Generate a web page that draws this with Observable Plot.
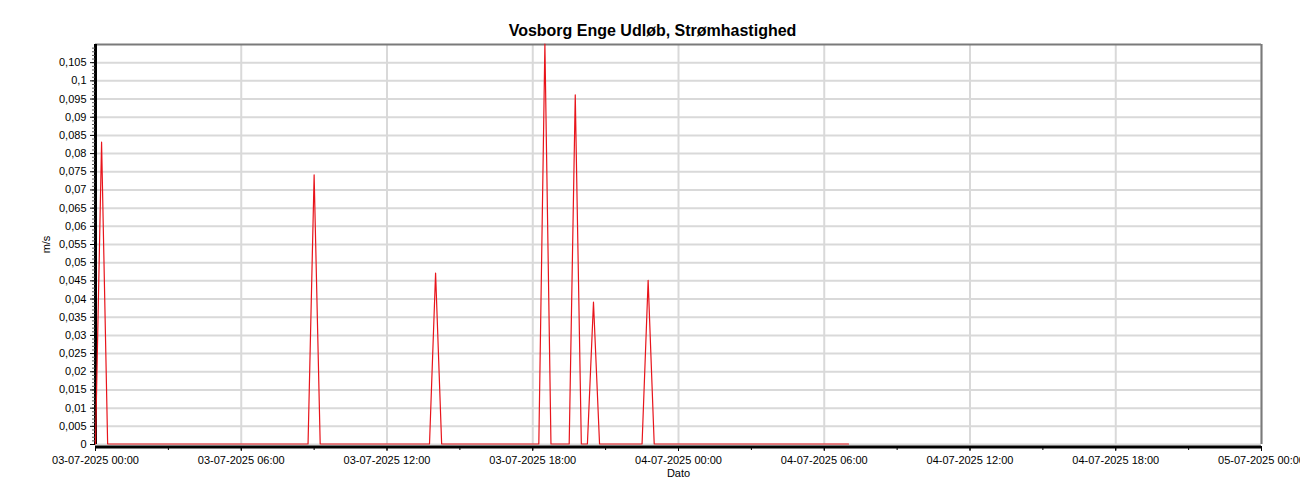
<!DOCTYPE html>
<html>
<head>
<meta charset="utf-8">
<script src="https://cdn.jsdelivr.net/npm/d3@7"></script>
<script src="https://cdn.jsdelivr.net/npm/@observablehq/plot@0.6"></script>
<style>
  html, body { margin: 0; padding: 0; background: white; }
</style>
</head>
<body>
<div id="chart"></div>
<script>
// ---- data ----
const title = "Vosborg Enge Udløb, Strømhastighed";
const yLabel = "m/s";
const xLabel = "Dato";
const seriesStart = "2025-07-03T00:00:00Z";
const stepMinutes = 15;
// values every 15 minutes, from 03-07-2025 00:00 to 04-07-2025 07:00 (one row = 2 hours)
const speed = [
  0, 0.083, 0, 0, 0, 0, 0, 0,        // 00:00
  0, 0, 0, 0, 0, 0, 0, 0,            // 02:00
  0, 0, 0, 0, 0, 0, 0, 0,            // 04:00
  0, 0, 0, 0, 0, 0, 0, 0,            // 06:00
  0, 0, 0, 0, 0.074, 0, 0, 0,        // 08:00
  0, 0, 0, 0, 0, 0, 0, 0,            // 10:00
  0, 0, 0, 0, 0, 0, 0, 0,            // 12:00
  0.047, 0, 0, 0, 0, 0, 0, 0,        // 14:00
  0, 0, 0, 0, 0, 0, 0, 0,            // 16:00
  0, 0, 0.11, 0, 0, 0, 0, 0.096,     // 18:00
  0, 0, 0.039, 0, 0, 0, 0, 0,        // 20:00
  0, 0, 0, 0.045, 0, 0, 0, 0,        // 22:00
  0, 0, 0, 0, 0, 0, 0, 0,            // 04-07 00:00
  0, 0, 0, 0, 0, 0, 0, 0,            // 02:00
  0, 0, 0, 0, 0, 0, 0, 0,            // 04:00
  0, 0, 0, 0, 0                      // 06:00 - 07:00
];
const xDomain = ["2025-07-03T00:00:00Z", "2025-07-05T00:00:00Z"];
const xTickLabels = [
  "2025-07-03T00:00:00Z", "2025-07-03T06:00:00Z", "2025-07-03T12:00:00Z",
  "2025-07-03T18:00:00Z", "2025-07-04T00:00:00Z", "2025-07-04T06:00:00Z",
  "2025-07-04T12:00:00Z", "2025-07-04T18:00:00Z", "2025-07-05T00:00:00Z"
];
const yTicks = [0, 0.005, 0.01, 0.015, 0.02, 0.025, 0.03, 0.035, 0.04, 0.045, 0.05,
  0.055, 0.06, 0.065, 0.07, 0.075, 0.08, 0.085, 0.09, 0.095, 0.1, 0.105];
const yDomain = [0, 0.11];

// ---- build ----
const t0 = new Date(seriesStart).getTime();
const data = speed.map((v, i) => ({date: new Date(t0 + i * stepMinutes * 60000), value: v}));
const xTicks = xTickLabels.map(d => new Date(d));
const dom = xDomain.map(d => new Date(d));
const fmtX = d3.utcFormat("%d-%m-%Y %H:%M");
const fmtY = d => String(d).replace(".", ",");
const yMinor = d3.range(0, 110).map(i => i / 1000);
const xMinor = d3.utcHours(dom[0], new Date(dom[1].getTime() + 1), 3);

const plot = Plot.plot({
  width: 1300,
  height: 500,
  marginLeft: 95,
  marginRight: 39,
  marginTop: 44,
  marginBottom: 56,
  style: {fontFamily: "'Liberation Sans', Arial, sans-serif", fontSize: "11px", background: "white", color: "black"},
  x: {type: "utc", domain: dom},
  y: {domain: yDomain},
  marks: [
    Plot.gridY(yTicks, {stroke: "#d9d9d9", strokeOpacity: 1, strokeWidth: 2}),
    Plot.gridX(xTicks, {stroke: "#d9d9d9", strokeOpacity: 1, strokeWidth: 2}),
    Plot.ruleY([yDomain[1]], {stroke: "#7a7a7a", strokeWidth: 2}),
    Plot.ruleX([dom[1]], {stroke: "#7a7a7a", strokeWidth: 2}),
    Plot.ruleX([dom[0]], {stroke: "black", strokeWidth: 3}),
    Plot.ruleY([0], {stroke: "black", strokeWidth: 3, dy: 2.5}),
    Plot.lineY(data, {x: "date", y: "value", stroke: "#e8141b", strokeWidth: 1.2, dy: -0.5}),
    Plot.axisY(yMinor, {tickSize: 3, text: null, label: null, stroke: "#555"}),
    Plot.axisY(yTicks, {tickSize: 5, tickPadding: 4, tickFormat: fmtY, label: yLabel,
      labelAnchor: "center", labelArrow: "none", labelOffset: 53}),
    Plot.axisX(xMinor, {tickSize: 4, text: null, label: null, dy: 2}),
    Plot.axisX(xTicks, {tickSize: 5, tickPadding: 5, tickFormat: fmtX, label: xLabel,
      labelAnchor: "center", labelArrow: "none", labelOffset: 32, dy: 2}),
    Plot.text([title], {frameAnchor: "top", dy: -20, dx: -26, fontWeight: "bold", fontSize: 16})
  ]
});
document.getElementById("chart").append(plot);
</script>
</body>
</html>
